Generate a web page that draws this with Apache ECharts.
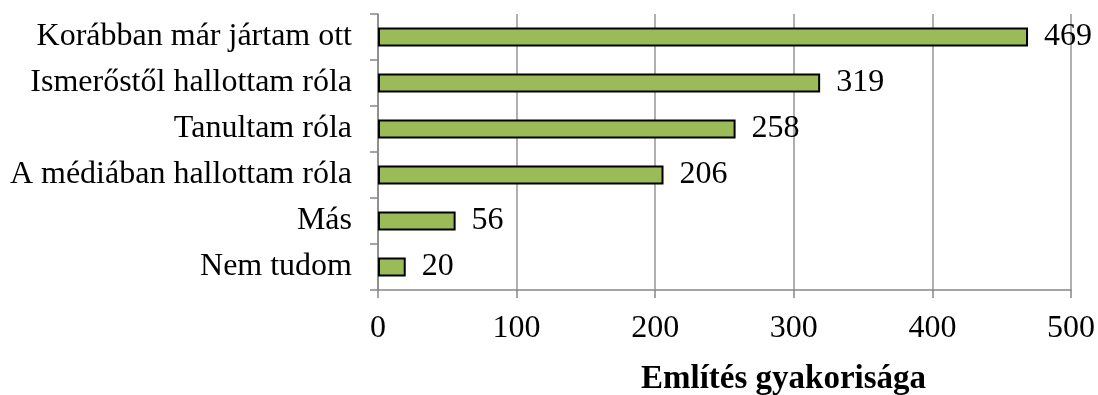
<!DOCTYPE html>
<html><head><meta charset="utf-8">
<script src="https://cdn.jsdelivr.net/npm/echarts@6/dist/echarts.min.js"></script>
<style>html,body{margin:0;padding:0;background:#fff}#c{width:1098px;height:395px}</style>
</head><body><div id="c"></div>
<script>
const categories = ["Korábban már jártam ott","Ismerőstől hallottam róla","Tanultam róla","A médiában hallottam róla","Más","Nem tudom"];
const values = [469,319,258,206,56,20];
const xTicks = [0,100,200,300,400,500];
const axisTitle = "Említés gyakorisága";
const font = "'Liberation Serif','Times New Roman',serif";
const chart = echarts.init(document.getElementById('c'));
chart.setOption({
  animation:false,
  title:{text:axisTitle,left:641,top:363,padding:0,textStyle:{fontFamily:font,fontSize:33,fontWeight:'bold',color:'#000'}},
  grid:{left:378,right:27,top:14,bottom:105},
  xAxis:{type:'value',min:xTicks[0],max:xTicks[xTicks.length-1],interval:100,
    axisLine:{show:true,lineStyle:{color:'#868686',width:1.5}},
    axisTick:{show:true,length:8,lineStyle:{color:'#868686',width:1.5}},
    splitLine:{show:true,lineStyle:{color:'#969696',width:1.5}},
    axisLabel:{margin:23,fontFamily:font,fontSize:32,color:'#000'}},
  yAxis:{type:'category',data:categories,inverse:true,
    axisLine:{show:true,lineStyle:{color:'#868686',width:1.5}},
    axisTick:{show:true,length:8,lineStyle:{color:'#868686',width:1.5}},
    axisLabel:{margin:26,fontFamily:font,fontSize:32,color:'#000'}},
  series:[{type:'bar',data:values,barWidth:19,
    itemStyle:{color:'#9BBB59',borderColor:'#000',borderWidth:2},
    label:{show:true,position:'right',distance:16,fontFamily:font,fontSize:32,color:'#000'}}]
});
</script></body></html>
